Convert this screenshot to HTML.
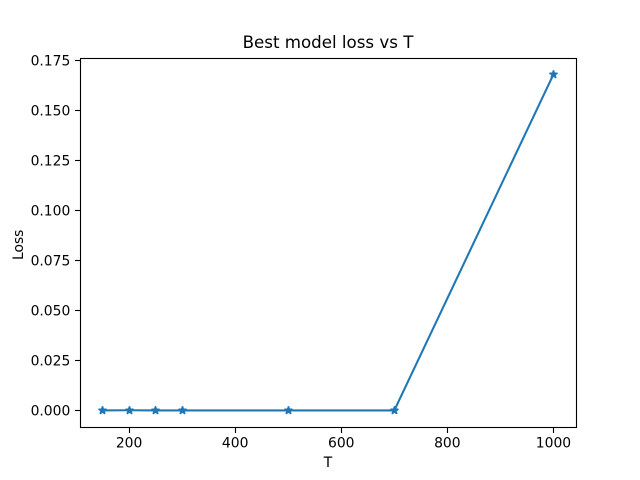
<!DOCTYPE html>
<html>
<head>
<meta charset="utf-8">
<title>Best model loss vs T</title>
<style>
html,body{margin:0;padding:0;background:#fff;width:640px;height:480px;overflow:hidden}
svg{display:block}
text{font-family:"DejaVu Sans","Liberation Sans",sans-serif;fill:#000}
</style>
</head>
<body>
<svg id="chart" xmlns="http://www.w3.org/2000/svg" width="640" height="480" viewBox="0 0 640 480">
<rect x="0" y="0" width="640" height="480" fill="#fff"></rect>
<text x="328" y="48" font-size="16.67" text-anchor="middle">Best model loss vs T</text>
<text x="328" y="467" font-size="13.89" text-anchor="middle">T</text>
<text transform="translate(23 244.8) rotate(-90)" font-size="13.89" text-anchor="middle">Loss</text>
<g id="ticks"></g>
<g id="marks"></g>
<rect x="80.5" y="58.5" width="496" height="369" fill="none" stroke="#000" stroke-width="1.11"></rect>
</svg>
<script>
const categories = [150, 200, 250, 300, 500, 700, 1000];
const lossValues = [0.00002, 0.0001, 0.00002, 0.00002, 0.00002, 0.00002, 0.168];
const xTickValues = [200, 400, 600, 800, 1000];
const yTickLabels = ['0.000', '0.025', '0.050', '0.075', '0.100', '0.125', '0.150', '0.175'];

const NS = 'http://www.w3.org/2000/svg';
const plot = { left: 80, right: 576, top: 57.6, bottom: 427.2 };

function extent(values) {
  const lo = Math.min.apply(null, values);
  const hi = Math.max.apply(null, values);
  const pad = (hi - lo) * 0.05;
  return [lo - pad, hi + pad];
}
const xDomain = extent(categories);
const yDomain = extent(lossValues);

function xScale(v) {
  return plot.left + (v - xDomain[0]) / (xDomain[1] - xDomain[0]) * (plot.right - plot.left);
}
function yScale(v) {
  return plot.bottom - (v - yDomain[0]) / (yDomain[1] - yDomain[0]) * (plot.bottom - plot.top);
}
function snap(p) {
  return Math.floor(p + 0.5) + 0.5;
}
function make(tag, attrs) {
  const el = document.createElementNS(NS, tag);
  for (const k in attrs) el.setAttribute(k, attrs[k]);
  return el;
}
function starPoints(cx, cy) {
  const outer = 4.17, inner = outer * 0.381966, pts = [];
  for (let i = 0; i < 10; i++) {
    const r = i % 2 ? inner : outer;
    const a = -Math.PI / 2 + i * Math.PI / 5;
    pts.push((cx + r * Math.cos(a)).toFixed(2) + ',' + (cy + r * Math.sin(a)).toFixed(2));
  }
  return pts.join(' ');
}

const ticks = document.getElementById('ticks');
const marks = document.getElementById('marks');

xTickValues.forEach(function (v) {
  const x = xScale(v);
  const line = make('line', { x1: snap(x), x2: snap(x), y1: 428, y2: 433, stroke: '#000', 'stroke-width': 1.11 });
  
  
  ticks.appendChild(line);
  const label = make('text', { x: x, y: 447.5, 'font-size': 13.89, 'text-anchor': 'middle' });
  
  
  label.textContent = String(v);
  ticks.appendChild(label);
});

yTickLabels.forEach(function (t) {
  const y = yScale(parseFloat(t));
  const line = make('line', { x1: 75, x2: 80, y1: snap(y), y2: snap(y), stroke: '#000', 'stroke-width': 1.11 });
  
  
  ticks.appendChild(line);
  const label = make('text', { x: 70.3, y: Math.round(y) + 5.6, 'font-size': 13.89, 'text-anchor': 'end' });
  
  
  label.textContent = t;
  ticks.appendChild(label);
});

const linePoints = categories.map(function (c, i) {
  return xScale(c).toFixed(2) + ',' + yScale(lossValues[i]).toFixed(2);
}).join(' ');
const seriesLine = make('polyline', { points: linePoints, fill: 'none', stroke: '#1f77b4', 'stroke-width': 2.08, 'stroke-linejoin': 'round', 'stroke-linecap': 'square' });


marks.appendChild(seriesLine);

categories.forEach(function (c, i) {
  const star = make('polygon', { points: starPoints(Math.floor(xScale(c)) + 0.5, Math.floor(yScale(lossValues[i])) + 0.5), fill: '#1f77b4', stroke: '#1f77b4', 'stroke-width': 1.39, 'stroke-linejoin': 'bevel' });
  
  
  marks.appendChild(star);
});
</script>
</body>
</html>
